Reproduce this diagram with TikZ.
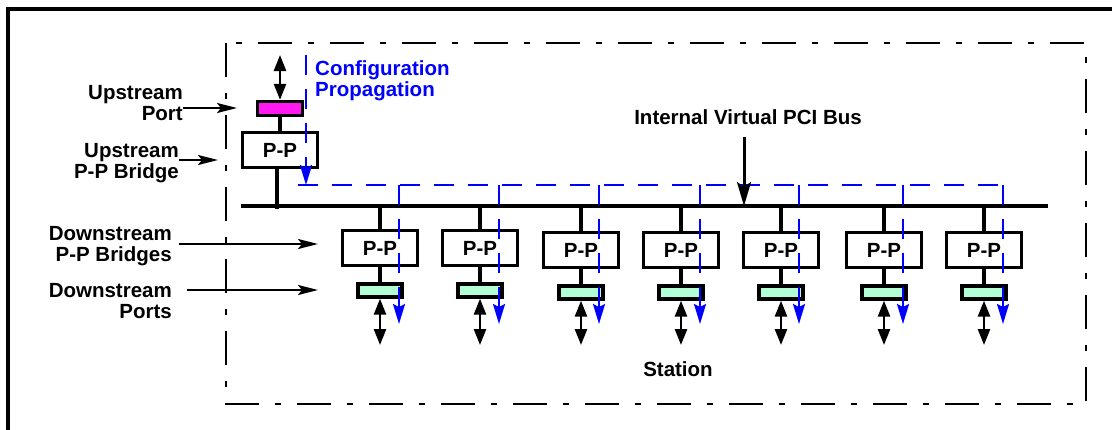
\documentclass[tikz,border=0pt]{standalone}
\usepackage{fontspec}
\setmainfont{Liberation Sans}
\usetikzlibrary{arrows.meta}
\definecolor{portmag}{RGB}{255,25,240}
\definecolor{portgrn}{RGB}{178,255,214}
\definecolor{cfgblue}{RGB}{0,0,255}
\begin{document}
\begin{tikzpicture}[x=1pt,y=-1pt,
  font=\fontsize{20.5}{21}\selectfont\bfseries,
  ppbox/.style={draw, line width=3.3pt, fill=white, minimum width=75pt, minimum height=35pt, inner sep=0pt},
  dport/.style={draw, line width=3.3pt, fill=portgrn, minimum width=44pt, minimum height=13pt, inner sep=0pt},
  uport/.style={draw, line width=3.3pt, fill=portmag, minimum width=45pt, minimum height=14pt, inner sep=0pt},
  wire/.style={line width=3.3pt},
  dbl/.style={line width=2.6pt, {Triangle[length=16pt,width=12pt]}-{Triangle[length=16pt,width=12pt]}},
  cfg/.style={cfgblue, line width=2.2pt, dash pattern=on 20pt off 14pt},
  cfgarr/.style={cfg, -{Stealth[length=20pt,width=12pt,inset=3pt]}},
  lab/.style={line width=2.2pt, -{Stealth[length=20pt,width=10pt,inset=4pt]}},
  lbl/.style={inner sep=0pt, align=right, anchor=east},
]
\useasboundingbox (0,0) rectangle (1112,429);
% outer frame (open to the right and bottom)
\draw[line width=3.3pt] (8,435) -- (8,9) -- (1120,9);
% station boundary
\draw[line width=2.8pt, dash pattern=on 34pt off 16pt on 6pt off 16pt] (226,43) rectangle (1086,404);

% bus
\coordinate (busL) at (241,206);
\coordinate (busR) at (1048,206);
\draw[wire] (busL) -- (busR);

% upstream port and bridge
\node[uport] (upport) at (280,108.5) {};
\node[ppbox] (upbox) at (280,150) {P-P};
\coordinate (uptop) at (280,55);
\draw[dbl] (upport.north) -- (uptop);
\draw[wire] (upport.south) -- (upbox.north);
\coordinate (upbot) at (277,209);
\draw[wire] (upbox.south -| upbot) -- (upbot);

% configuration propagation (horizontal)
\coordinate (cfgtop) at (306,55);
\coordinate (cfgcorner) at (306,185);
\coordinate (cfgL) at (298,185);
\coordinate (cfgR) at (1003,185);
\draw[cfg] (cfgL) -- (cfgR);
\draw[cfgarr] (cfgtop) -- (cfgcorner);

% downstream bridges and ports
\foreach \i/\x/\bx/\dy in {1/380/399/-2,2/480/499/-2,3/581/599/0,4/681/700/0,5/781/799/0,6/884/903/0,7/984/1003/0} {
  \node[ppbox] (d\i) at (\x,250+\dy) {P-P};
  \node[dport] (p\i) at (\x,292.5+\dy) {};
  \draw[wire] (d\i.north) -- (d\i.north |- busL);
  \draw[wire] (d\i.south) -- (p\i.north);
  \coordinate (e\i) at (\x,345);
  \draw[dbl] (p\i.south) -- (e\i);
  \coordinate (b\i) at (\bx,185);
  \coordinate (c\i) at (\bx,324);
  \draw[cfgarr] (b\i) -- (c\i);
}

% labels
\node[lbl] (lupport) at (183,103.5) {Upstream\\Port};
\node[lbl] (lupbr) at (179,163) {Upstream\\P-P Bridge};
\node[lbl] (ldnbr) at (172,246.5) {Downstream\\P-P Bridges};
\node[lbl] (ldnport) at (172,301) {Downstream\\Ports};
\node[inner sep=0pt, align=left, anchor=west, text=cfgblue] (lcfg) at (315,80.5) {Configuration\\Propagation};
\node[inner sep=0pt] (lbus) at (748,117) {Internal Virtual PCI Bus};
\node[inner sep=0pt] (lstation) at (678,369) {Station};

\coordinate (t1) at (237,108);
\coordinate (t2) at (218,160);
\coordinate (t3) at (318,244);
\coordinate (t4) at (318,290);
\coordinate (t5) at (744,206);
\draw[lab] (lupport.east |- t1) -- (t1);
\draw[lab] (lupbr.east |- t2) -- (t2);
\draw[lab] (179,244) coordinate (s3) -- (t3);
\draw[lab] (187,290) coordinate (s4) -- (t4);
\draw[line width=3pt, -{Stealth[length=24pt,width=14pt,inset=5pt]}] (744,137) coordinate (s5) -- (t5);
\end{tikzpicture}
\end{document}
